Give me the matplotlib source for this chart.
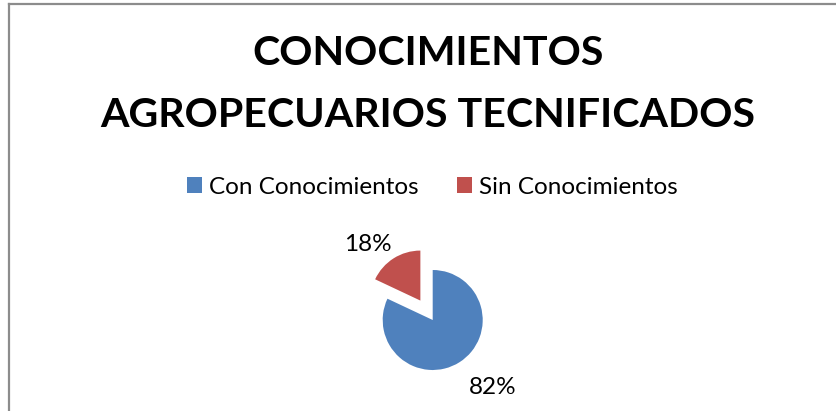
import matplotlib
matplotlib.use("Agg")
import numpy as np
import matplotlib.pyplot as plt
from matplotlib.lines import Line2D
from matplotlib.patches import Patch

# data
categories = ['Con Conocimientos', 'Sin Conocimientos']
values = [82, 18]
colors = ['#4F81BD', '#C0504D']
title = 'CONOCIMIENTOS\nAGROPECUARIOS TECNIFICADOS'

plt.rcParams['font.family'] = ['Lato', 'DejaVu Sans']

W, H = 836, 411
fig = plt.figure(figsize=(W / 100, H / 100), dpi=100)

# pie axes over the whole figure, 1 data unit = r pixels
r = 50
cx, cy = 432.7, H - 320
ax = fig.add_axes([0, 0, 1, 1])
wedges, texts, autotexts = ax.pie(values, colors=colors, startangle=90, counterclock=False,
                                  explode=[0, 0.46], autopct='%1.0f%%', radius=1,
                                  textprops={'fontsize': 17.5, 'color': '#000000'})
ax.set_aspect('auto')
ax.set_xlim(-cx / r, (W - cx) / r)
ax.set_ylim(-cy / r, (H - cy) / r)
ax.axis('off')

# labels just outside each slice, like Excel's "outside end"
for w, t, d in zip(wedges, autotexts, [1.36, 1.08]):
    ang = np.deg2rad((w.theta1 + w.theta2) / 2)
    c, s = np.cos(ang), np.sin(ang)
    x0, y0 = w.center
    t.set_position((x0 + d * c, y0 + d * s))
    t.set_ha('left' if c > 0 else 'right')
    t.set_va('bottom' if s > 0 else 'top')

fig.text(428 / W, 1 - 84.5 / H, title, ha='center', va='center', fontsize=29.6,
         fontweight='bold', linespacing=1.85)

handles = [Patch(facecolor=c, edgecolor='none') for c in colors]
fig.legend(handles, categories, loc='center', bbox_to_anchor=(432.5 / W, 1 - 187 / H), ncol=2,
           frameon=False, fontsize=17.5, handlelength=0.62, handleheight=0.62,
           handletextpad=0.3, columnspacing=1.56)

# chart border (top and left edges visible)
fig.add_artist(Line2D([8.5 / W, 8.5 / W], [0, 1 - 4.5 / H], color='#8C8C8C', lw=1.6,
                      transform=fig.transFigure))
fig.add_artist(Line2D([8.5 / W, 1], [1 - 4.5 / H, 1 - 4.5 / H], color='#8C8C8C', lw=1.6,
                      transform=fig.transFigure))

fig.savefig('out.png', dpi=100)
